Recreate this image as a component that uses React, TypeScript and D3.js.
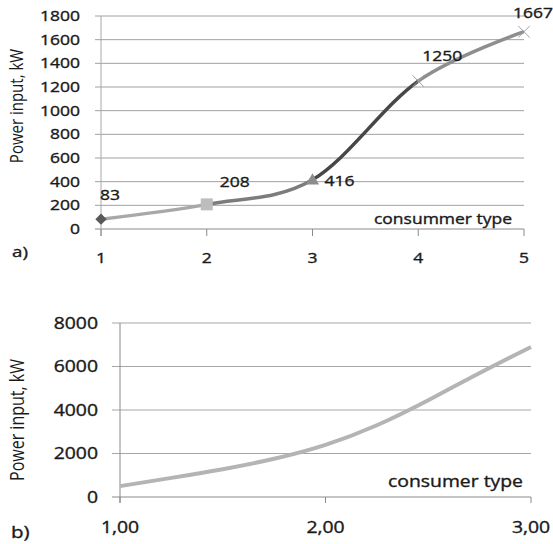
import React from "react";
import * as d3 from "d3";

// chart a) - five consumer types
const typesA = [1, 2, 3, 4, 5];
const powerA = [83, 208, 416, 1250, 1667];
const ticksA = [0, 200, 400, 600, 800, 1000, 1200, 1400, 1600, 1800];
const segColorsA = ["#a8a8a8", "#7c7c7c", "#474747", "#8e8e8e"];
const markerKindsA = ["diamond", "square", "triangle", "x", "x"];
const markerColorsA = ["#595959", "#bdbdbd", "#8c8c8c", "#a0a0a0", "#a0a0a0"];
const labelOffsetsA = [[-1, -19], [13, -17], [12, 6], [4, -20], [-11, -14]];

// chart b) - continuous curve
const typesB = [1, 1.25, 1.5, 1.75, 2, 2.25, 2.5, 2.75, 3];
const powerB = [500, 880, 1280, 1760, 2400, 3300, 4450, 5700, 6900];
const ticksB = [0, 2000, 4000, 6000, 8000];
const xTicksB = [1, 2, 3];

const FONT = "'Open Sans', 'DejaVu Sans', sans-serif";
const SX = 1.25;

function T({ x, y, size, anchor = "start", children }: any) {
  return (
    <text
      transform={`translate(${x},${y}) scale(${SX},1)`}
      fontSize={size}
      textAnchor={anchor}
      fill="#1a1a1a"
      stroke="#1a1a1a"
      strokeWidth={0.35}
      fontFamily={FONT}
    >
      {children}
    </text>
  );
}

function YTitle({ x, y, size }: any) {
  return (
    <text
      transform={`translate(${x},${y}) rotate(-90) scale(1,${SX})`}
      fontSize={size}
      textAnchor="middle"
      fill="#1a1a1a"
      fontFamily={FONT}
    >
      Power input, kW
    </text>
  );
}

function ChartA() {
  const x = d3.scaleLinear().domain([1, 5]).range([101, 524]);
  const y = d3.scaleLinear().domain([0, 1800]).range([229, 16]);
  const pts = typesA.map((t, i) => [x(t), y(powerA[i])] as [number, number]);
  const path = d3.line().curve(d3.curveCardinal.tension(0))(pts) || "";
  const fs = 14;

  const marker = (kind: string, i: number) => {
    const [px, py] = pts[i];
    const c = markerColorsA[i];
    if (kind === "diamond")
      return <path key={i} d={d3.symbol(d3.symbolSquare, 64)() || ""} transform={`translate(${px},${py}) rotate(45)`} fill={c} />;
    if (kind === "square")
      return <path key={i} d={d3.symbol(d3.symbolSquare, 144)() || ""} transform={`translate(${px},${py})`} fill={c} />;
    if (kind === "triangle")
      return <path key={i} d={d3.symbol(d3.symbolTriangle, 75)() || ""} transform={`translate(${px},${py + 1})`} fill={c} />;
    return <path key={i} d={d3.symbol(d3.symbolX, 90)() || ""} transform={`translate(${px},${py})`} stroke={c} strokeWidth={1} fill="none" />;
  };

  return (
    <g>
      <defs>
        {pts.slice(0, -1).map((p, i) => (
          <clipPath id={`segA${i}`} key={i}>
            <rect x={p[0]} y={0} width={pts[i + 1][0] - p[0]} height={260} />
          </clipPath>
        ))}
      </defs>
      {ticksA.map((t) => (
        <line key={t} x1={95} x2={524} y1={y(t)} y2={y(t)} stroke={t === 0 ? "#8a8a8a" : "#a0a0a0"} strokeWidth={1} />
      ))}
      <line x1={101} x2={101} y1={16} y2={236} stroke="#a8a8a8" />
      {typesA.map((t) => (
        <line key={t} x1={x(t)} x2={x(t)} y1={229} y2={236} stroke="#8a8a8a" />
      ))}
      {pts.slice(0, -1).map((_, i) => (
        <path key={i} d={path} fill="none" stroke={segColorsA[i]} strokeWidth={3.5} clipPath={`url(#segA${i})`} />
      ))}
      {markerKindsA.map((k, i) => marker(k, i))}
      {ticksA.map((t) => (
        <T key={t} x={80} y={y(t) + 5} size={fs} anchor="end">{t}</T>
      ))}
      {typesA.map((t) => (
        <T key={t} x={x(t)} y={263} size={fs} anchor="middle">{t}</T>
      ))}
      {powerA.map((v, i) => (
        <T key={i} x={pts[i][0] + labelOffsetsA[i][0]} y={pts[i][1] + labelOffsetsA[i][1]} size={fs}>{v}</T>
      ))}
      <T x={512} y={224} size={fs} anchor="end">consummer type</T>
      <YTitle x={23} y={106} size={15} />
      <T x={12} y={257} size={fs + 1}>a)</T>
    </g>
  );
}

function ChartB() {
  const x = d3.scaleLinear().domain([1, 3]).range([120, 531]);
  const y = d3.scaleLinear().domain([0, 8000]).range([497, 323]);
  const path = d3.line<number>().x((d) => x(d)).y((d, i) => y(powerB[i])).curve(d3.curveNatural)(typesB) || "";
  const fs = 15.5;
  const fmt = (v: number) => v.toFixed(2).replace(".", ",");
  return (
    <g>
      {ticksB.map((t) => (
        <line key={t} x1={112} x2={531} y1={y(t)} y2={y(t)} stroke={t === 0 ? "#8a8a8a" : "#a6a6a6"} strokeWidth={1} />
      ))}
      <line x1={120} x2={120} y1={323} y2={503} stroke="#8a8a8a" />
      {xTicksB.map((t) => (
        <line key={t} x1={x(t)} x2={x(t)} y1={497} y2={503} stroke="#8a8a8a" />
      ))}
      <path d={path} fill="none" stroke="#b4b4b4" strokeWidth={4} />
      {ticksB.map((t) => (
        <T key={t} x={98} y={y(t) + 5.5} size={fs} anchor="end">{t}</T>
      ))}
      {xTicksB.map((t) => (
        <T key={t} x={x(t)} y={533} size={fs} anchor="middle">{fmt(t)}</T>
      ))}
      <T x={523} y={487} size={fs} anchor="end">consumer type</T>
      <YTitle x={24} y={420} size={16} />
      <T x={11} y={538} size={fs + 1}>b)</T>
    </g>
  );
}

export default function App() {
  return (
    <svg width={553} height={544} style={{ position: "absolute", left: 0, top: 0, background: "#fff" }}>
      <rect width={553} height={544} fill="#fff" />
      <ChartA />
      <ChartB />
    </svg>
  );
}
